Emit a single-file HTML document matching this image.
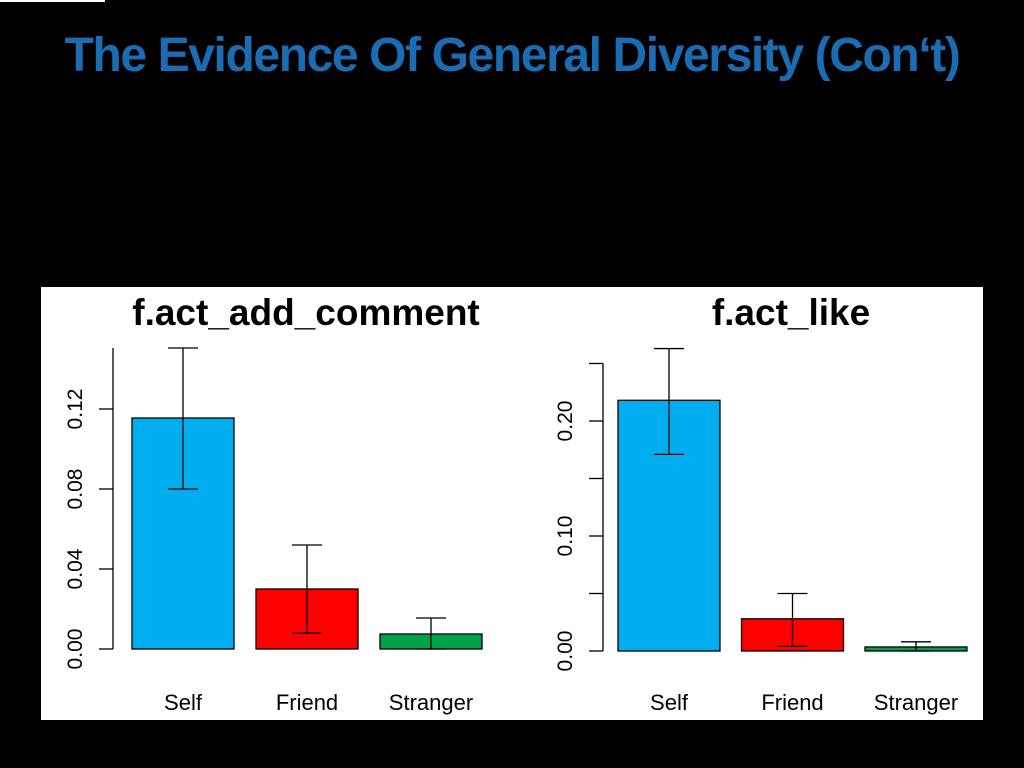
<!DOCTYPE html>
<html><head><meta charset="utf-8"><style>
body{margin:0;background:#000;width:1024px;height:768px;overflow:hidden;font-family:"Liberation Sans",sans-serif}
#title{position:absolute;left:0;width:1024px;top:28px;text-align:center;color:#1b6db3;font-weight:bold;font-size:48px;letter-spacing:-1.4px;font-family:"Liberation Sans",sans-serif}
#topline{position:absolute;left:0;top:0;width:105px;height:2px;background:#fff}
svg{position:absolute;left:0;top:0}
</style></head><body>
<div id="topline"></div>
<div id="title">The Evidence Of General Diversity (Con‘t)</div>
<svg id="chart" width="1024" height="768">
<rect x="41" y="287" width="942" height="433" fill="#fff"/>
</svg>
<script>
const categories=["Self","Friend","Stranger"];
const colors=["#00adef","#ff0000","#00a14b"];
const commentValues=[0.1155,0.030,0.0075];
const commentLow=[0.080,0.008,0.000];
const commentHigh=[0.1505,0.052,0.0155];
const commentTicks=[0,0.04,0.08,0.12];
const commentTickLabels=["0.00","0.04","0.08","0.12"];
const likeValues=[0.218,0.028,0.0035];
const likeLow=[0.171,0.004,0.000];
const likeHigh=[0.263,0.050,0.008];
const likeTicks=[0,0.10,0.20];
const likeTickLabels=["0.00","0.10","0.20"];
const NS="http://www.w3.org/2000/svg";
const svg=document.getElementById('chart');
function mk(tag,attrs,parent){const e=document.createElementNS(NS,tag);for(const k in attrs)e.setAttribute(k,attrs[k]);(parent||svg).appendChild(e);return e;}
function drawChart(o){
  const g=mk('g',{});
  
  
  const y=v=>o.y0-v*o.scale;
  const t=mk('text',{x:o.titleX,y:325,'text-anchor':'middle','font-size':37,'font-weight':'bold',fill:'#000'},g);
  t.textContent=o.title;
  
  
  const ax=mk('line',{x1:o.axisX,x2:o.axisX,y1:y(o.ticks[0]),y2:y(o.axisTop),stroke:'#000','stroke-width':1.3},g);
  
  
  const ticks=o.ticks.concat(o.extraTicks);
  ticks.forEach(v=>{mk('line',{x1:o.axisX-14,x2:o.axisX,y1:y(v),y2:y(v),stroke:'#000','stroke-width':1.3},g);});
  o.ticks.forEach((v,i)=>{
    const tx=mk('text',{x:0,y:0,transform:`translate(${o.axisX-31},${y(v)}) rotate(-90)`,'text-anchor':'middle','font-size':21,fill:'#000'},g);
    tx.textContent=o.tickLabels[i];
    
    
  });
  categories.forEach((c,i)=>{
    const x=o.barX0+i*o.step;
    const b=mk('rect',{x:x,y:y(o.values[i]),width:o.barW,height:o.y0-y(o.values[i]),fill:colors[i],stroke:'#000','stroke-width':1.3},g);
    
    
    const cx=x+o.barW/2;
    mk('line',{x1:cx,x2:cx,y1:y(o.low[i]),y2:y(o.high[i]),stroke:'#000','stroke-width':1.3},g);
    mk('line',{x1:cx-15,x2:cx+15,y1:y(o.low[i]),y2:y(o.low[i]),stroke:'#000','stroke-width':1.3},g);
    mk('line',{x1:cx-15,x2:cx+15,y1:y(o.high[i]),y2:y(o.high[i]),stroke:'#000','stroke-width':1.3},g);
    const l=mk('text',{x:cx,y:710,'text-anchor':'middle','font-size':22,fill:'#000'},g);
    l.textContent=c;
    
    
  });
}
drawChart({name:'comment-chart',title:'f.act_add_comment',titleX:306,axisX:113,y0:649,scale:2000,axisTop:0.1505,ticks:commentTicks,extraTicks:[],tickLabels:commentTickLabels,values:commentValues,low:commentLow,high:commentHigh,barX0:132,barW:102,step:124});
drawChart({name:'like-chart',title:'f.act_like',titleX:791,axisX:603,y0:651,scale:1150,axisTop:0.25,ticks:likeTicks,extraTicks:[0.05,0.15,0.25],tickLabels:likeTickLabels,values:likeValues,low:likeLow,high:likeHigh,barX0:618,barW:102,step:123.5});
</script>
</body></html>
